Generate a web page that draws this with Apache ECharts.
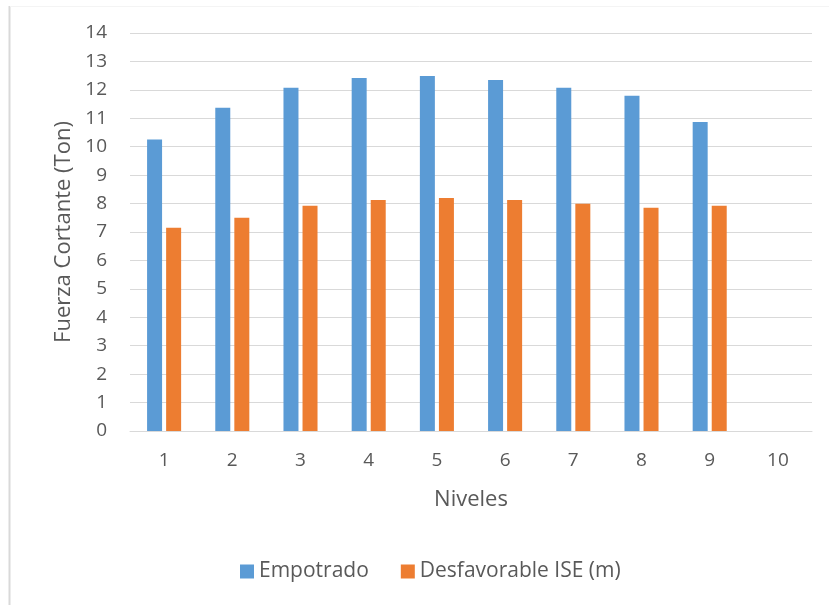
<!DOCTYPE html>
<html>
<head>
<meta charset="utf-8">
<script src="https://cdn.jsdelivr.net/npm/echarts@6/dist/echarts.min.js"></script>
<style>
html,body{margin:0;padding:0;background:#fff;}
#c{width:829px;height:605px;}
</style>
</head>
<body>
<div id="c"></div>
<script>
const categories = ['1','2','3','4','5','6','7','8','9','10'];
const empotrado = [10.25, 11.37, 12.07, 12.42, 12.49, 12.35, 12.07, 11.79, 10.87, null];
const desfavorable = [7.15, 7.50, 7.92, 8.13, 8.20, 8.13, 7.99, 7.85, 7.92, null];
const seriesNames = ['Empotrado', 'Desfavorable ISE (m)'];
const yAxisName = 'Fuerza Cortante (Ton)';
const xAxisName = 'Niveles';

const FONT = 'Open Sans';
const TXT = '#595959';
const chart = echarts.init(document.getElementById('c'), null, {renderer: 'canvas'});
chart.setOption({
  animation: false,
  backgroundColor: '#fff',
  textStyle: {fontFamily: FONT},
  graphic: [
    {type: 'line', shape: {x1: 9.5, y1: 6, x2: 9.5, y2: 605}, style: {stroke: '#d9d9d9', lineWidth: 2}},
    {type: 'line', shape: {x1: 10, y1: 6.5, x2: 829, y2: 6.5}, style: {stroke: '#f4f4f4', lineWidth: 1}}
  ],
  grid: {left: 130, right: 17, top: 33, bottom: 174, containLabel: false},
  legend: {
    left: 240, top: 561, padding: 0,
    itemWidth: 14, itemHeight: 14, itemGap: 32,
    icon: 'rect',
    textStyle: {color: TXT, fontSize: 21, fontFamily: FONT, padding: [0, 0, 0, 0]},
    data: seriesNames
  },
  xAxis: {
    type: 'category',
    data: categories,
    name: xAxisName,
    nameLocation: 'middle',
    nameGap: 58,
    nameTextStyle: {color: TXT, fontSize: 22, fontFamily: FONT},
    axisLine: {lineStyle: {color: '#d9d9d9', width: 1}},
    axisTick: {show: false},
    axisLabel: {color: TXT, fontSize: 19, margin: 20, fontFamily: FONT}
  },
  yAxis: {
    type: 'value',
    min: 0, max: 14, interval: 1,
    name: yAxisName,
    nameLocation: 'middle',
    nameGap: 55,
    nameTextStyle: {color: TXT, fontSize: 22, fontFamily: FONT},
    axisLine: {show: false},
    axisTick: {show: false},
    axisLabel: {color: TXT, fontSize: 19, margin: 23, fontFamily: FONT},
    splitLine: {lineStyle: {color: '#d9d9d9', width: 1}}
  },
  series: [
    {name: seriesNames[0], type: 'bar', data: empotrado, barWidth: 15, barGap: '27%', itemStyle: {color: '#5B9BD5'}},
    {name: seriesNames[1], type: 'bar', data: desfavorable, barWidth: 15, barGap: '27%', itemStyle: {color: '#ED7D31'}}
  ]
});
</script>
</body>
</html>
